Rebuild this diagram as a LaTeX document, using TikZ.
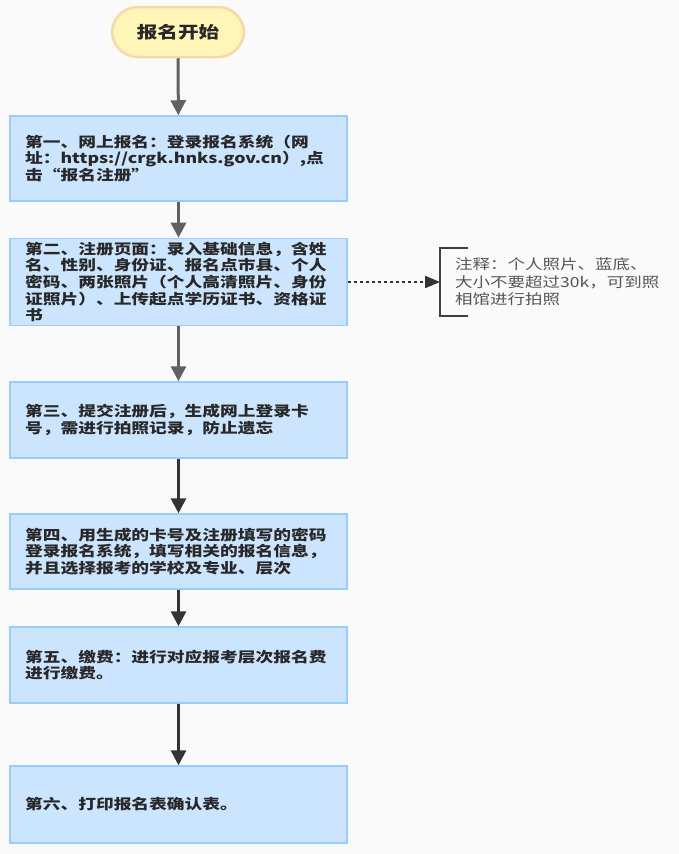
\documentclass[tikz,border=0pt]{standalone}
\usepackage{fontspec}
\setmainfont{Noto Sans CJK SC}[FakeStretch=1.25]
\usetikzlibrary{arrows.meta}
\definecolor{bgcol}{RGB}{250,250,250}
\definecolor{boxfill}{RGB}{204,229,255}
\definecolor{boxline}{RGB}{153,204,255}
\definecolor{startfill}{RGB}{255,246,184}
\definecolor{startline}{RGB}{251,214,168}
\definecolor{txtcol}{RGB}{40,40,40}
\definecolor{notecol}{RGB}{85,85,85}
\tikzset{
  box/.style={draw=boxline,fill=boxfill,line width=1.5pt,text width=307pt,inner xsep=15pt,
    align=left,text=txtcol,font=\fontsize{14.2}{16.7}\selectfont\bfseries},
  startbox/.style={draw=startline,fill=startfill,line width=2.5pt,rounded corners=26pt,
    minimum width=132pt,minimum height=50pt,text=txtcol,font=\fontsize{16.5}{18}\selectfont\bfseries},
  flow/.style={line width=3pt,-{Triangle[length=15pt,width=15pt]}},
  note/.style={text=notecol,align=left,inner xsep=15pt,minimum height=67pt,
    font=\fontsize{14}{17.5}\selectfont},
}
\begin{document}
\begin{tikzpicture}[x=1pt,y=-1pt]
\fill[bgcol] (0,0) rectangle (679,854);
\useasboundingbox (0,0) rectangle (679,854);
% start
\node[startbox] (start) at (178,32) {报名开始};
% steps
\node[box,minimum height=85pt] (one) at (178.5,158.5) {第一、网上报名：登录报名系统（网\\址：https://crgk.hnks.gov.cn）,点\\击“报名注册”};
\node[box,minimum height=86pt] (two) at (178.5,282) {第二、注册页面：录入基础信息，含姓\\名、性别、身份证、报名点市县、个人\\密码、两张照片（个人高清照片、身份\\证照片）、上传起点学历证书、资格证\\书};
\node[box,minimum height=76pt] (three) at (178.5,420) {第三、提交注册后，生成网上登录卡\\号，需进行拍照记录，防止遗忘};
\node[box,minimum height=75pt] (four) at (178.5,551.5) {第四、用生成的卡号及注册填写的密码\\登录报名系统，填写相关的报名信息，\\并且选择报考的学校及专业、层次};
\node[box,minimum height=76pt] (five) at (178.5,665) {第五、缴费：进行对应报考层次报名费\\进行缴费。};
\node[box,minimum height=77pt] (six) at (178.5,804.5) {第六、打印报名表确认表。};
% note
\node[note,anchor=west] (remark) at (440,282) {注释：个人照片、蓝底、\\大小不要超过30k，可到照\\相馆进行拍照};
\draw[line width=2pt,color=black!75] ([xshift=28pt]remark.north west) -- (remark.north west) -- (remark.south west) -- ([xshift=28pt]remark.south west);
% arrows
\draw[flow,color=black!62] (start) -- (one);
\draw[flow,color=black!62] (one) -- (two);
\draw[flow,color=black!62] (two) -- (three);
\draw[flow,color=black!80] (three) -- (four);
\draw[flow,color=black!80] (four) -- (five);
\draw[flow,color=black!80] (five) -- (six);
\draw[line width=2pt,color=black!80,dash pattern=on 3pt off 3pt,-{Triangle[length=15pt,width=12pt]}] (two.east) -- (remark.west);
\end{tikzpicture}
\end{document}
